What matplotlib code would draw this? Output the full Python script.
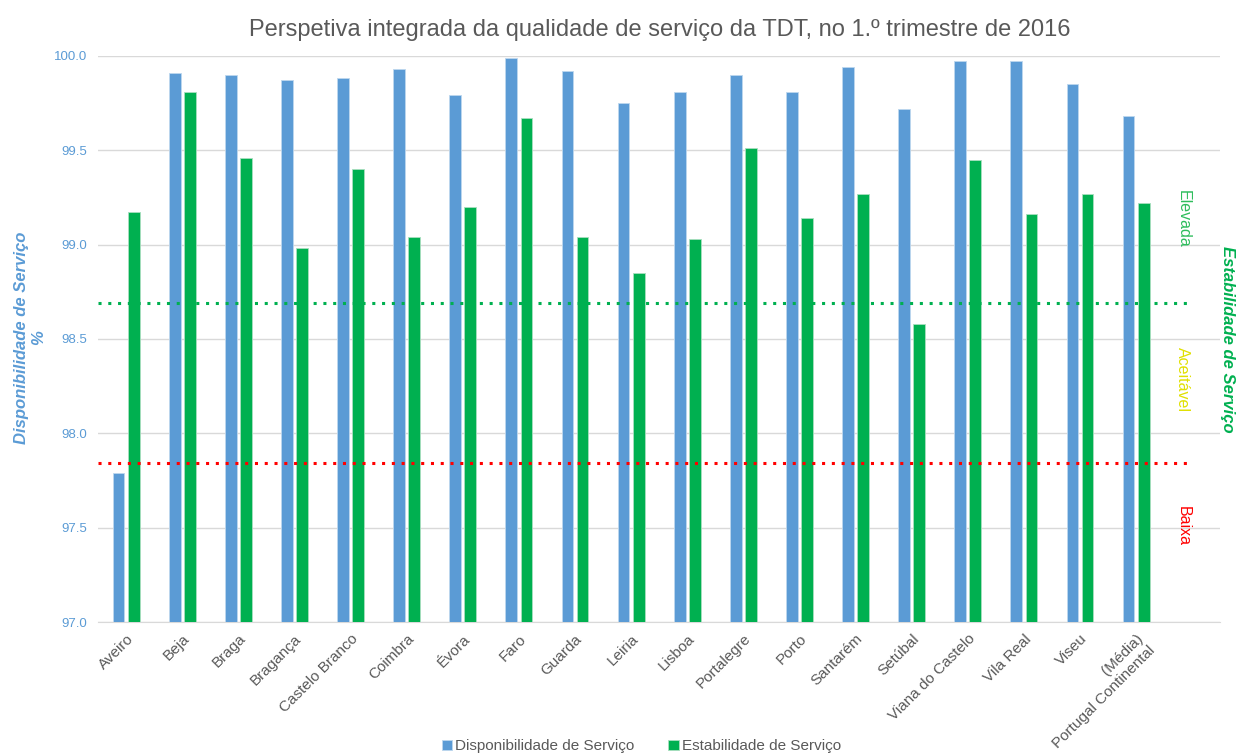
import matplotlib
matplotlib.use("Agg")
from matplotlib import pyplot as plt
import numpy as np

plt.rcParams['font.family'] = ['Liberation Sans', 'DejaVu Sans']

districts = ["Aveiro", "Beja", "Braga", "Bragança", "Castelo Branco", "Coimbra", "Évora",
             "Faro", "Guarda", "Leiria", "Lisboa", "Portalegre", "Porto", "Santarém",
             "Setúbal", "Viana do Castelo", "Vila Real", "Viseu",
             "(Média)\nPortugal Continental"]
disponibilidade = [97.79, 99.91, 99.90, 99.87, 99.88, 99.93, 99.79, 99.99, 99.92, 99.75,
                   99.81, 99.90, 99.81, 99.94, 99.72, 99.97, 99.97, 99.85, 99.68]
estabilidade = [99.17, 99.81, 99.46, 98.98, 99.40, 99.04, 99.20, 99.67, 99.04, 98.85,
                99.03, 99.51, 99.14, 99.27, 98.58, 99.45, 99.16, 99.27, 99.22]
limite_elevada = 98.69
limite_baixa = 97.84

blue = "#5B9BD5"
green = "#00B050"
grey = "#595959"

fig = plt.figure(figsize=(12.36, 7.54), dpi=100)
ax = fig.add_axes([0.0793, 0.175, 0.908, 0.751])

x = np.arange(len(districts))
w = 0.21
ax.bar(x - 0.135, disponibilidade, w, color=blue, edgecolor="#BDD7EE", linewidth=0.6,
       label="Disponibilidade de Serviço", zorder=3)
ax.bar(x + 0.135, estabilidade, w, color=green, edgecolor="#A9DFBF", linewidth=0.6,
       label="Estabilidade de Serviço", zorder=3)

ax.axhline(limite_elevada, xmin=0, xmax=0.975, color=green, linestyle=(0, (1, 2.2)),
           linewidth=2.2, zorder=4)
ax.axhline(limite_baixa, xmin=0, xmax=0.975, color="#FF0000", linestyle=(0, (1, 2.2)),
           linewidth=2.2, zorder=4)

ax.set_ylim(97.0, 100.0)
# one empty slot after the last category, as in the original chart
ax.set_xlim(-0.5, len(districts) + 0.5)
ticks = np.arange(97.0, 100.01, 0.5)
ax.set_yticks(ticks)
ax.set_yticklabels([f"{v:.1f}" for v in ticks])
ax.tick_params(axis="y", colors=blue, labelsize=9.5, length=0, pad=8)
ax.tick_params(axis="x", length=0, pad=7)
ax.set_xticks(x)
ax.set_xticklabels(districts, rotation=45, ha="right", rotation_mode="anchor",
                   fontsize=11, color=grey, multialignment="right")
ax.grid(axis="y", color="#D9D9D9", linewidth=1, zorder=0)
for s in ["top", "right", "left"]:
    ax.spines[s].set_visible(False)
ax.spines["bottom"].set_color("#D9D9D9")

fig.text(0.0245, 0.552, "Disponibilidade de Serviço\n%", rotation=90, ha="center",
         va="center", multialignment="center", color=blue, fontsize=12,
         fontweight="bold", fontstyle="italic")

fig.text(0.534, 0.96, "Perspetiva integrada da qualidade de serviço da TDT, no 1.º trimestre de 2016",
         ha="center", va="center", fontsize=17, color=grey)

fig.text(0.957, 0.71, "Elevada", rotation=-90, ha="center", va="center", fontsize=11.5,
         color="#2EBD5C")
fig.text(0.957, 0.497, "Aceitável", rotation=-90, ha="center", va="center", fontsize=11.5,
         color="#E0E000")
fig.text(0.957, 0.302, "Baixa", rotation=-90, ha="center", va="center", fontsize=11.5,
         color="#FF0000")
fig.text(0.993, 0.55, "Estabilidade de Serviço", rotation=-90, ha="center", va="center",
         fontsize=12, color=green, fontweight="bold", fontstyle="italic")

fig.legend(loc="center", bbox_to_anchor=(0.519, 0.01), ncol=2, frameon=False,
           fontsize=11, handlelength=0.7, handleheight=0.7, handletextpad=0.2,
           columnspacing=2.2, labelcolor=grey)

plt.savefig("out.png", dpi=100)
